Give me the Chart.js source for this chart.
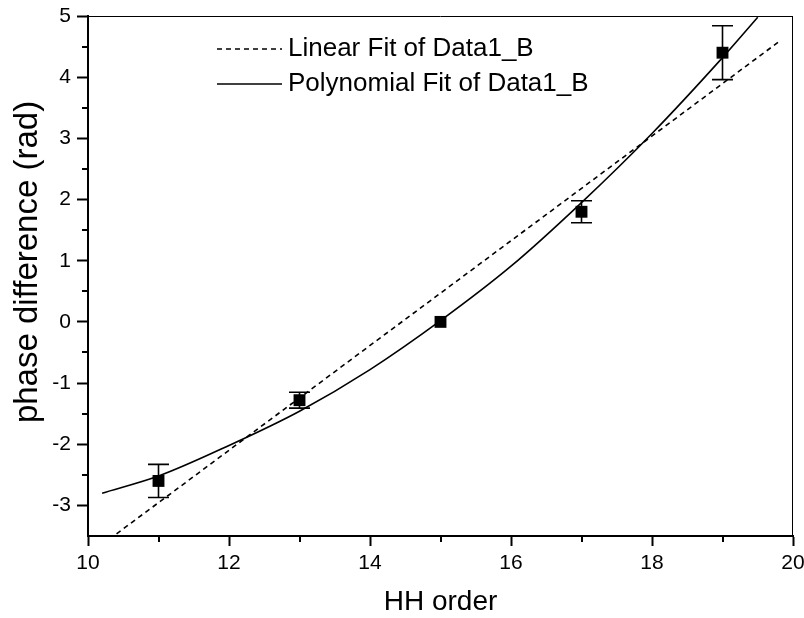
<!DOCTYPE html>
<html>
<head>
<meta charset="utf-8">
<script src="https://cdn.jsdelivr.net/npm/chart.js@4.4.1/dist/chart.umd.min.js"></script>
<style>
  html, body { margin: 0; padding: 0; background: #fff; }
  canvas { display: block; }
</style>
</head>
<body>
<canvas id="viz" width="804" height="618"></canvas>
<script>
// Measured points (HH order vs phase difference, with error bars)
const hhOrder = [11, 13, 15, 17, 19];
const phaseDiff = [-2.6, -1.28, 0, 1.8, 4.4];
const phaseErr = [0.27, 0.13, 0, 0.18, 0.44];

// Linear fit, ends (clipped by the frame)
const linX = [10.2, 19.8];
const linY = [-3.64, 4.58];

// Polynomial fit
const polyX = [10.2, 11, 12, 13, 14, 15, 16, 17, 18, 19, 19.5];
const polyY = [-2.8, -2.52, -2.02, -1.46, -0.78, 0.02, 0.91, 1.95, 3.08, 4.32, 4.98];

// Axis ticks
const xTicks = [10, 12, 14, 16, 18, 20];
const xMinor = [11, 13, 15, 17, 19];
const yTicks = [-3, -2, -1, 0, 1, 2, 3, 4, 5];
const yMinor = [-2.5, -1.5, -0.5, 0.5, 1.5, 2.5, 3.5, 4.5];

const FONT = "'Liberation Sans', Arial, sans-serif";
const $ = (id) => document.getElementById(id);
const pts = (xs, ys) => xs.map((v, i) => ({ x: v, y: ys[i] }));

// Top/right frame + minor ticks
const frameTicks = {
  id: 'frameTicks',
  afterDraw(chart) {
    const { ctx, chartArea: a, scales: { x, y } } = chart;
    ctx.save();
    ctx.strokeStyle = '#000';
    ctx.lineWidth = 1;
    ctx.beginPath();
    ctx.moveTo(a.left, a.top + 0.5); ctx.lineTo(a.right, a.top + 0.5);
    ctx.moveTo(a.right - 0.5, a.top); ctx.lineTo(a.right - 0.5, a.bottom);
    ctx.stroke();
    ctx.lineWidth = 2;
    ctx.beginPath();
    xMinor.forEach(v => {
      const px = Math.round(x.getPixelForValue(v));
      ctx.moveTo(px, a.bottom); ctx.lineTo(px, a.bottom + 6);
    });
    yMinor.forEach(v => {
      const py = Math.round(y.getPixelForValue(v));
      ctx.moveTo(a.left, py); ctx.lineTo(a.left - 6, py);
    });
    ctx.stroke();
    ctx.restore();
  }
};

// Error bars for the data set (none drawn where the error is zero)
const errorBars = {
  id: 'errorBars',
  afterDatasetsDraw(chart) {
    const { ctx, scales: { x, y } } = chart;
    ctx.save();
    ctx.strokeStyle = '#000';
    ctx.lineWidth = 1.6;
    ctx.beginPath();
    hhOrder.forEach((v, i) => {
      if (!phaseErr[i]) return;
      const px = x.getPixelForValue(v);
      const top = y.getPixelForValue(phaseDiff[i] + phaseErr[i]);
      const bot = y.getPixelForValue(phaseDiff[i] - phaseErr[i]);
      ctx.moveTo(px, top); ctx.lineTo(px, bot);
      ctx.moveTo(px - 10.5, top); ctx.lineTo(px + 10.5, top);
      ctx.moveTo(px - 10.5, bot); ctx.lineTo(px + 10.5, bot);
    });
    ctx.stroke();
    ctx.restore();
  }
};

// Legend inside the plot and the y axis title
const legendAndTitle = {
  id: 'legendAndTitle',
  afterDraw(chart) {
    const { ctx, chartArea: a } = chart;
    ctx.save();
    ctx.fillStyle = '#000';
    ctx.strokeStyle = '#000';
    ctx.font = '26px ' + FONT;
    ctx.textBaseline = 'middle';
    ctx.textAlign = 'left';
    [0, 1].forEach((di, row) => {
      const ds = chart.data.datasets[di];
      const ly = 49 + row * 35;
      ctx.lineWidth = 1.5;
      ctx.setLineDash(ds.borderDash || []);
      ctx.beginPath();
      ctx.moveTo(217, ly); ctx.lineTo(282, ly);
      ctx.stroke();
      ctx.setLineDash([]);
      ctx.fillText(ds.label, 288, ly - 0.5);
    });
    ctx.translate(28, (a.top + a.bottom) / 2 - 14);
    ctx.rotate(-Math.PI / 2);
    ctx.textAlign = 'center';
    ctx.font = '33px ' + FONT;
    ctx.fillText('phase difference (rad)', 0, 0);
    ctx.restore();
  }
};

const chart = new Chart($('viz').getContext('2d'), {
  type: 'scatter',
  data: {
    datasets: [
      {
        label: 'Linear Fit of Data1_B',
        data: pts(linX, linY),
        showLine: true,
        borderColor: '#000',
        borderWidth: 1.6,
        borderDash: [5, 4],
        pointRadius: 0,
        clip: 0
      },
      {
        label: 'Polynomial Fit of Data1_B',
        data: pts(polyX, polyY),
        showLine: true,
        borderColor: '#000',
        borderWidth: 1.6,
        cubicInterpolationMode: 'monotone',
        pointRadius: 0,
        clip: 0
      },
      {
        label: 'Data1_B',
        data: pts(hhOrder, phaseDiff),
        pointStyle: 'rect',
        pointRadius: 8.4,
        backgroundColor: '#000',
        borderWidth: 0
      }
    ]
  },
  options: {
    responsive: false,
    animation: false,
    layout: { padding: { top: 16, right: 11, left: 0, bottom: 0 } },
    plugins: {
      legend: { display: false },
      tooltip: { enabled: false }
    },
    scales: {
      x: {
        type: 'linear',
        min: 10, max: 20,
        afterBuildTicks: (s) => { s.ticks = xTicks.map(v => ({ value: v })); },
        afterFit: (s) => { s.height = 82; s.paddingLeft = 0; s.paddingRight = 0; },
        ticks: { color: '#000', font: { family: FONT, size: 21 }, padding: 5, maxRotation: 0 },
        grid: { drawOnChartArea: false, tickLength: 10, tickWidth: 2, tickColor: '#000' },
        border: { color: '#000', width: 2 },
        title: {
          display: true, text: 'HH order', color: '#000',
          font: { family: FONT, size: 28, lineHeight: 1 },
          padding: { top: 0, bottom: 2 }
        }
      },
      y: {
        type: 'linear',
        min: -3.5, max: 5,
        afterBuildTicks: (s) => { s.ticks = yTicks.map(v => ({ value: v })); },
        afterFit: (s) => { s.width = 88; s.paddingTop = 0; s.paddingBottom = 0; },
        ticks: { color: '#000', font: { family: FONT, size: 21 }, padding: 6 },
        grid: { drawOnChartArea: false, tickLength: 11, tickWidth: 2, tickColor: '#000' },
        border: { color: '#000', width: 2 }
      }
    }
  },
  plugins: [frameTicks, errorBars, legendAndTitle]
});
</script>
</body>
</html>
